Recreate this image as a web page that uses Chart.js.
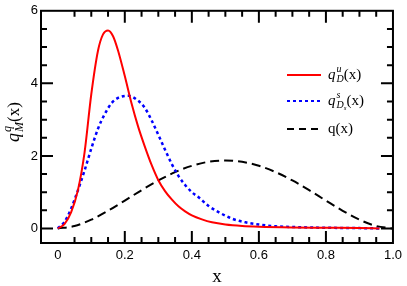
<!DOCTYPE html>
<html lang="en">
<head>
    <meta charset="UTF-8">
    <title>q(x) distributions</title>
    <script src="https://cdn.jsdelivr.net/npm/chart.js"></script>
    <style>
        body { margin: 0; background: #fff; }
        #chart { display: block; }
    </style>
</head>
<body>
<canvas id="chart" width="407" height="286"></canvas>
<script>
    // red solid: q_D^u(x)
    const uX = [0, 0.02, 0.04, 0.06, 0.08, 0.10, 0.12, 0.135, 0.15, 0.165, 0.18, 0.20, 0.22, 0.24, 0.26, 0.28, 0.30, 0.32, 0.34, 0.36, 0.38, 0.40, 0.43, 0.46, 0.50, 0.55, 0.60, 0.70, 0.80, 0.90, 0.96];
    const uY = [0, 0.12, 0.45, 1.05, 2.1, 3.7, 4.9, 5.35, 5.46, 5.3, 4.9, 4.2, 3.45, 2.8, 2.25, 1.75, 1.33, 1.03, 0.80, 0.61, 0.47, 0.36, 0.25, 0.17, 0.11, 0.07, 0.05, 0.03, 0.02, 0.01, 0];

    // blue dotted: q_{D_s}^s(x)
    const sX = [0, 0.02, 0.04, 0.06, 0.08, 0.10, 0.12, 0.14, 0.16, 0.18, 0.21, 0.24, 0.26, 0.28, 0.30, 0.32, 0.34, 0.36, 0.38, 0.40, 0.42, 0.45, 0.48, 0.52, 0.56, 0.60, 0.65, 0.70, 0.80, 0.90, 0.96];
    const sY = [0, 0.18, 0.55, 1.05, 1.6, 2.2, 2.75, 3.15, 3.45, 3.6, 3.66, 3.52, 3.32, 2.98, 2.58, 2.17, 1.78, 1.45, 1.2, 1.0, 0.86, 0.62, 0.45, 0.27, 0.17, 0.11, 0.06, 0.04, 0.02, 0.01, 0];

    // black dashed: q(x)
    const qX = [0, 0.05, 0.10, 0.15, 0.20, 0.25, 0.30, 0.35, 0.40, 0.45, 0.50, 0.55, 0.60, 0.65, 0.70, 0.75, 0.80, 0.85, 0.90, 0.95, 1.0];
    const qY = [0, 0.068, 0.243, 0.488, 0.768, 1.055, 1.323, 1.553, 1.728, 1.838, 1.875, 1.838, 1.728, 1.553, 1.323, 1.055, 0.768, 0.488, 0.243, 0.068, 0];

    const xTicks = [0, 0.2, 0.4, 0.6, 0.8, 1.0];
    const yTicks = [0, 2, 4, 6];

    const pts = (xs, ys) => xs.map((x, i) => ({ x: x, y: ys[i] }));

    const serif = '"Liberation Serif", "DejaVu Serif", serif';

    // frame, inward ticks, titles and legend
    const decor = {
        id: 'decor',
        afterDraw(chart) {
            const ctx = chart.ctx;
            const a = chart.chartArea;
            const xs = chart.scales.x, ys = chart.scales.y;
            ctx.save();
            ctx.strokeStyle = '#000';
            ctx.lineWidth = 2;
            ctx.strokeRect(a.left, a.top, a.right - a.left, a.bottom - a.top);

            ctx.beginPath();
            for (let i = 1; i <= 19; i++) {
                const v = i * 0.05;
                const px = xs.getPixelForValue(v);
                const len = (i % 4 === 0) ? 12 : 6;
                ctx.moveTo(px, a.bottom); ctx.lineTo(px, a.bottom - len);
                ctx.moveTo(px, a.top); ctx.lineTo(px, a.top + len);
            }
            for (let i = 0; i <= 11; i++) {
                const v = i * 0.5;
                const py = ys.getPixelForValue(v);
                const len = (i % 4 === 0) ? 12 : 6;
                ctx.moveTo(a.left, py); ctx.lineTo(a.left + len, py);
                ctx.moveTo(a.right, py); ctx.lineTo(a.right - len, py);
            }
            ctx.stroke();

            // x axis title
            ctx.fillStyle = '#000';
            ctx.textAlign = 'center';
            ctx.textBaseline = 'alphabetic';
            ctx.font = '19px ' + serif;
            ctx.fillText('x', (a.left + a.right) / 2, 282);

            // y axis title, rotated
            ctx.save();
            ctx.translate(19, 121);
            ctx.rotate(-Math.PI / 2);
            ctx.textAlign = 'left';
            let x0 = -21;
            ctx.font = 'italic 18px ' + serif;
            ctx.fillText('q', x0, 0);
            x0 += ctx.measureText('q').width + 1;
            ctx.font = 'italic 12px ' + serif;
            ctx.fillText('q', x0, -8);
            ctx.fillText('M', x0, 4);
            x0 += ctx.measureText('M').width;
            ctx.font = '17px ' + serif;
            ctx.fillText('(x)', x0, 0);
            ctx.restore();

            // legend
            const rows = [
                { y: 75, color: '#ff0000', dash: [], sup: 'u', sub: 'D', subsub: '', plain: false },
                { y: 101, color: '#0000ff', dash: [3, 3], sup: 's', sub: 'D', subsub: 's', plain: false },
                { y: 129, color: '#000000', dash: [7, 5], plain: true }
            ];
            rows.forEach(r => {
                ctx.save();
                ctx.strokeStyle = r.color;
                ctx.lineWidth = 2;
                ctx.setLineDash(r.dash);
                ctx.beginPath();
                ctx.moveTo(287, r.y); ctx.lineTo(321, r.y);
                ctx.stroke();
                ctx.restore();
                const by = r.y + 4;
                let tx = 328;
                ctx.textAlign = 'left';
                if (r.plain) {
                    ctx.font = '15px ' + serif;
                    ctx.fillText('q(x)', tx, by);
                    return;
                }
                ctx.font = 'italic 15px ' + serif;
                ctx.fillText('q', tx, by);
                tx += ctx.measureText('q').width + 1;
                ctx.font = 'italic 10px ' + serif;
                ctx.fillText(r.sup, tx, by - 7);
                ctx.fillText(r.sub, tx, by + 3);
                let w = ctx.measureText(r.sub).width;
                if (r.subsub) {
                    ctx.font = 'italic 7px ' + serif;
                    ctx.fillText(r.subsub, tx + w, by + 5);
                    w += ctx.measureText(r.subsub).width;
                }
                tx += w;
                ctx.font = '15px ' + serif;
                ctx.fillText('(x)', tx, by);
            });
            ctx.restore();
        }
    };

    new Chart(document.getElementById('chart').getContext('2d'), {
        type: 'line',
        data: {
            datasets: [
                {
                    label: 'q_D^u(x)',
                    data: pts(uX, uY),
                    borderColor: '#ff0000',
                    borderWidth: 2,
                    pointRadius: 0,
                    cubicInterpolationMode: 'monotone'
                },
                {
                    label: 'q_Ds^s(x)',
                    data: pts(sX, sY),
                    borderColor: '#0000ff',
                    borderWidth: 2.5,
                    borderDash: [3, 3],
                    pointRadius: 0,
                    cubicInterpolationMode: 'monotone'
                },
                {
                    label: 'q(x)',
                    data: pts(qX, qY),
                    borderColor: '#000000',
                    borderWidth: 2,
                    borderDash: [9, 5],
                    pointRadius: 0,
                    cubicInterpolationMode: 'monotone'
                }
            ]
        },
        options: {
            responsive: false,
            animation: false,
            devicePixelRatio: 1,
            layout: { padding: { top: 5, right: 0, left: 0, bottom: 0 } },
            plugins: { legend: { display: false }, tooltip: { enabled: false } },
            scales: {
                x: {
                    type: 'linear',
                    min: -0.05,
                    max: 1.0,
                    afterBuildTicks: s => { s.ticks = xTicks.map(v => ({ value: v })); },
                    afterFit: s => { s.height = 43; },
                    grid: { display: false, drawTicks: false },
                    border: { display: false },
                    ticks: {
                        autoSkip: false,
                        maxRotation: 0,
                        padding: 5,
                        color: '#000',
                        font: { family: '"Liberation Sans", Arial, sans-serif', size: 13 },
                        callback: v => v === 0 ? '0' : v.toFixed(1)
                    }
                },
                y: {
                    type: 'linear',
                    min: -0.4,
                    max: 6,
                    afterBuildTicks: s => { s.ticks = yTicks.map(v => ({ value: v })); },
                    afterFit: s => { s.width = 41; },
                    grid: { display: false, drawTicks: false },
                    border: { display: false },
                    ticks: {
                        padding: 3,
                        color: '#000',
                        font: { family: '"Liberation Sans", Arial, sans-serif', size: 13 },
                        callback: v => String(v)
                    }
                }
            }
        },
        plugins: [decor]
    });
</script>
</body>
</html>
